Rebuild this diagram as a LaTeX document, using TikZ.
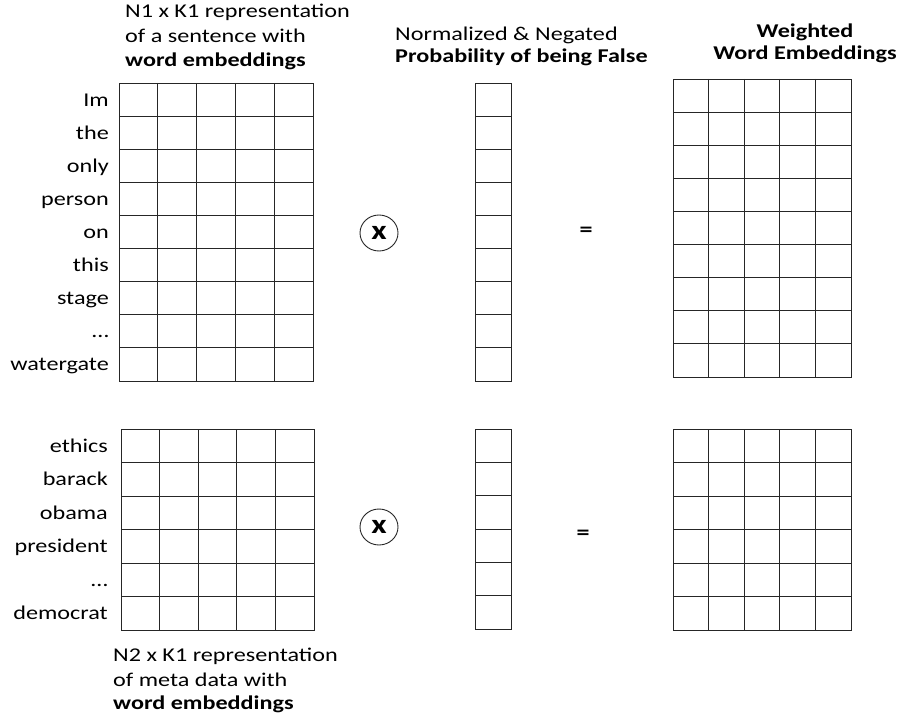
\documentclass[tikz,border=0pt]{standalone}
\usepackage{fontspec}
\usetikzlibrary{shapes.geometric}
\setmainfont[FakeStretch=1.24]{Carlito}
\begin{document}
\begin{tikzpicture}[x=1pt,y=-1pt,
  gridline/.style={draw=black!85,line width=0.9pt},
  lbl/.style={anchor=base east,inner sep=0pt,font=\fontsize{19.5}{23}\selectfont},
  ttl/.style={anchor=base west,inner sep=0pt,font=\fontsize{19.5}{23}\selectfont},
  ttlc/.style={anchor=base,inner sep=0pt,font=\fontsize{19.5}{23}\selectfont},
  opcirc/.style={draw=black!85,line width=0.9pt,ellipse,minimum width=38pt,minimum height=36pt,inner sep=0pt,font=\fontsize{27}{28}\selectfont\bfseries},
  eqsign/.style={inner sep=0pt,font=\fontsize{21}{22}\selectfont\bfseries}]
\useasboundingbox (0,0) rectangle (899,719);
\newcommand{\mtxgrid}[6]{%
  \draw[gridline] (#1,#2) rectangle (#3,#4);
  \foreach \i in {1,...,#5} {\ifnum\i<#5\relax \draw[gridline] ({#1+\i*(#3-#1)/#5},#2) -- ({#1+\i*(#3-#1)/#5},#4);\fi}
  \foreach \j in {1,...,#6} {\ifnum\j<#6\relax \draw[gridline] (#1,{#2+\j*(#4-#2)/#6}) -- (#3,{#2+\j*(#4-#2)/#6});\fi}
}
% grids
\mtxgrid{119}{83}{313}{381}{5}{9}
\mtxgrid{475}{83}{511}{381}{1}{9}
\mtxgrid{673}{79}{851}{377}{5}{9}
\mtxgrid{121}{429}{314}{630}{5}{6}
\mtxgrid{475}{429}{511}{629}{1}{6}
\mtxgrid{673}{429}{851}{630}{5}{6}
% titles
\node[ttl] (t1a) at (125,18) {N1 x K1 representation};
\node[ttl] (t1b) at (125,43) {of a sentence with};
\node[ttl] (t1c) at (125,67) {\bfseries word embeddings};
\node[ttl] (t2a) at (395,41) {Normalized \& Negated};
\node[ttl] (t2b) at (395,63) {\bfseries Probability of being False};
\node[ttlc] (t3a) at (805,38) {\bfseries Weighted};
\node[ttlc] (t3b) at (805,60) {\bfseries Word Embeddings};
\node[ttl] (t4a) at (113,661) {N2 x K1 representation};
\node[ttl] (t4b) at (113,686) {of meta data with};
\node[ttl] (t4c) at (113,709) {\bfseries word embeddings};
% row labels
\foreach \w [count=\k] in {Im,the,only,person,on,this,stage,\ldots,watergate}
  \node[lbl] (lt\k) at (109,{83+(\k-0.5)*298/9+6.5}) {\w};
\foreach \w [count=\k] in {ethics,barack,obama,president,\ldots,democrat}
  \node[lbl] (lb\k) at (108,{429+(\k-0.5)*201/6+6.5}) {\w};
% operators
\node[opcirc] (x1) at (379,233) {x};
\node[opcirc] (x2) at (379,527) {x};
\node[eqsign] (e1) at (586,232) {=};
\node[eqsign] (e2) at (583,535) {=};
\end{tikzpicture}
\end{document}
